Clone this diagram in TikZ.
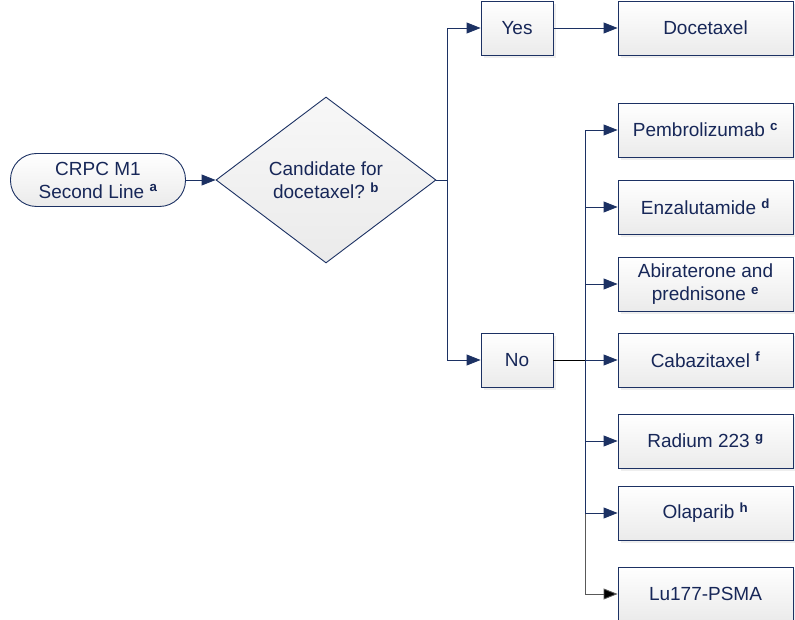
\documentclass[tikz,border=0pt]{standalone}
\usepackage{fontspec}
\setmainfont{Liberation Sans}
\usetikzlibrary{shapes.geometric,arrows.meta,shadows}
\definecolor{navy}{HTML}{1C3163}
\definecolor{inknavy}{HTML}{172758}
\newcommand{\fmark}[1]{~\textsuperscript{\bfseries #1}}

\begin{document}
\begin{tikzpicture}[x=1pt,y=-1pt,
		box/.style={draw=navy,line width=0.9pt,top color=white,bottom color=black!8,text=inknavy,
			minimum width=175pt,minimum height=54pt,align=center,font=\fontsize{19}{23}\selectfont,
			drop shadow={shadow xshift=3pt,shadow yshift=-3pt,fill=black!13}},
		startbox/.style={draw=navy,line width=0.9pt,top color=white,bottom color=black!8,text=inknavy,
			rounded corners=26pt,minimum width=175pt,minimum height=53pt,align=center,font=\fontsize{19}{23}\selectfont},
		decision/.style={diamond,draw=navy,line width=0.9pt,top color=black!3,bottom color=black!8,text=inknavy,
			minimum width=220pt,minimum height=166pt,inner sep=0pt,align=center,font=\fontsize{19}{23}\selectfont},
		wire/.style={draw=navy,line width=0.9pt},
		link/.style={wire,-{Triangle[length=14pt,width=11pt]}}]
		\useasboundingbox (0,0) rectangle (795,620);
		\node[startbox] (start) at (98,180) {CRPC M1\\Second Line\fmark{a}};
		\node[decision] (cand) at (326,180) {Candidate for\\docetaxel?\fmark{b}};
		\coordinate (split) at (447,180);
		\node[box,minimum width=72pt] (yes) at (517,28) {Yes};
		\node[box] (doce) at (705.5,28) {Docetaxel};
		\node[box,minimum width=72pt] (no) at (517,360) {No};
		\coordinate (bus) at (585,360);
		\node[box] (pembro) at (705.5,130) {Pembrolizumab\fmark{c}};
		\node[box] (enza) at (705.5,207) {Enzalutamide\fmark{d}};
		\node[box] (abi) at (705.5,284) {Abiraterone and\\prednisone\fmark{e}};
		\node[box] (caba) at (705.5,360) {Cabazitaxel\fmark{f}};
		\node[box] (radium) at (705.5,441) {Radium 223\fmark{g}};
		\node[box] (ola) at (705.5,513) {Olaparib\fmark{h}};
		\node[box] (lu) at (705.5,594) {Lu177-PSMA};
		\draw[link] (start) -- (cand);
		\draw[wire] (cand.east) -- (split);
		\draw[link] (split) |- (yes);
		\draw[link] (split) |- (no);
		\draw[link] (yes) -- (doce);
		\draw[wire,draw=black] (no) -- (bus);
		\draw[link,draw=black!65,-{Triangle[length=14pt,width=11pt,fill=black]}] (bus) |- (lu);
		\draw[link] (bus) |- (pembro);
		\draw[link] (bus) |- (enza);
		\draw[link] (bus) |- (abi);
		\draw[link] (bus) -- (caba);
		\draw[link] (bus) |- (radium);
		\draw[link] (bus) |- (ola);
	\end{tikzpicture}
\end{document}
